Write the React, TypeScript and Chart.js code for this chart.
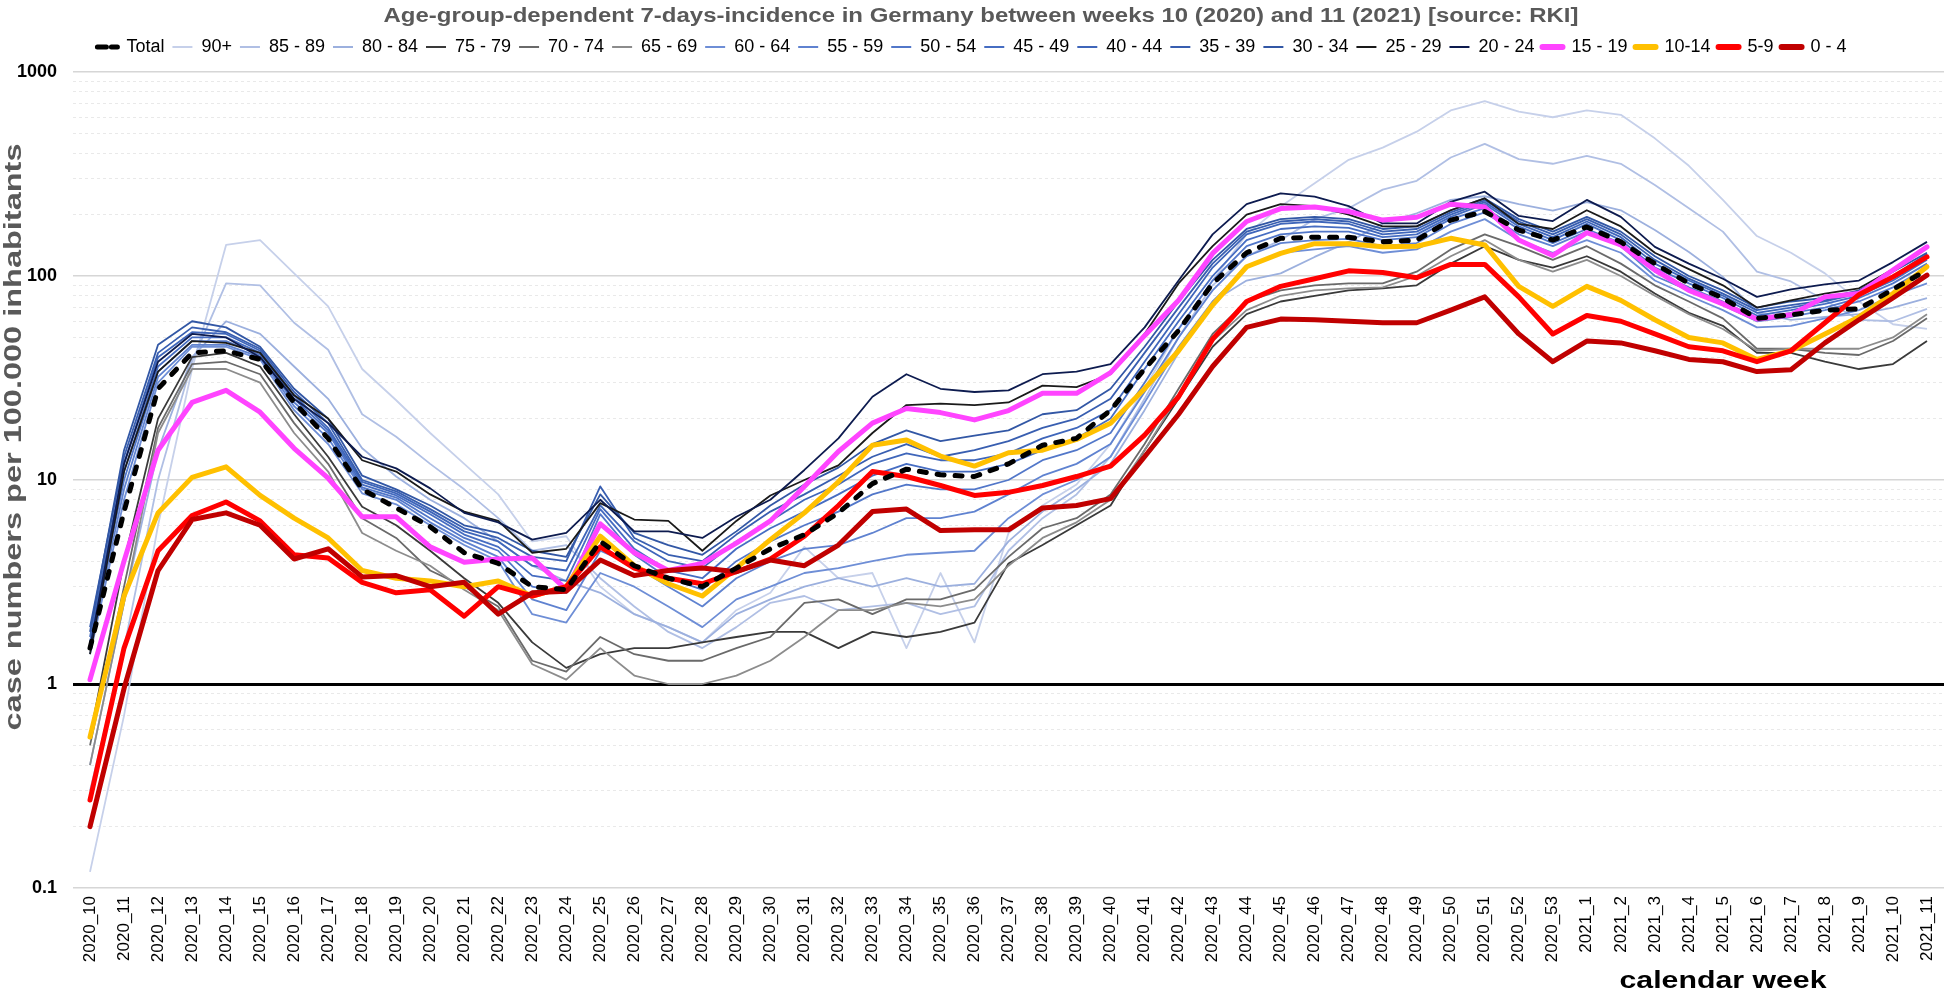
import React, { useEffect, useRef } from "react";
import { Chart, registerables } from "chart.js";

Chart.register(...registerables);

// ---------- data ----------
const weeks = [
  "2020_10", "2020_11", "2020_12", "2020_13", "2020_14", "2020_15", "2020_16", "2020_17", "2020_18", "2020_19",
  "2020_20", "2020_21", "2020_22", "2020_23", "2020_24", "2020_25", "2020_26", "2020_27", "2020_28", "2020_29",
  "2020_30", "2020_31", "2020_32", "2020_33", "2020_34", "2020_35", "2020_36", "2020_37", "2020_38", "2020_39",
  "2020_40", "2020_41", "2020_42", "2020_43", "2020_44", "2020_45", "2020_46", "2020_47", "2020_48", "2020_49",
  "2020_50", "2020_51", "2020_52", "2020_53", "2021_1", "2021_2", "2021_3", "2021_4", "2021_5", "2021_6",
  "2021_7", "2021_8", "2021_9", "2021_10", "2021_11",
];

const total = [1.5, 7, 28, 42, 43, 39, 24, 16, 9, 7.3, 5.9, 4.4, 3.9, 3.0, 2.9, 5.0, 3.8, 3.3, 3.0, 3.7, 4.6, 5.4, 6.9, 9.6, 11.3, 10.6, 10.4, 12, 14.8, 16, 22, 35, 54, 92, 130, 153, 155, 155, 147, 150, 188, 207, 168, 150, 174, 147, 115, 92, 78, 62, 64.5, 68, 69, 86, 107];
const age90 = [0.12, 0.7, 6, 35, 142, 150, 103, 71, 35, 24.6, 17, 12, 8.5, 5.0, 5.3, 3.0, 2.2, 1.9, 1.6, 2.3, 2.8, 4.7, 3.3, 3.5, 1.5, 3.5, 1.6, 5.5, 7.5, 9.5, 15, 28, 55, 95, 160, 219, 285, 371, 426, 510, 648, 720, 639, 600, 648, 617, 473, 347, 236, 157, 130, 103, 75, 58, 55];
const age85_89 = [0.3, 1.5, 10, 38, 92, 90, 59, 43.5, 21, 16.3, 12, 9, 6.5, 4.5, 4.8, 3.3, 2.4, 1.8, 1.5, 1.9, 2.5, 2.7, 2.3, 2.4, 2.5, 2.2, 2.4, 4.5, 6.5, 8.5, 13, 25, 50, 90, 125, 150, 190, 215, 265, 293, 381, 444, 374, 355, 388, 355, 279, 215, 165, 105, 94, 76, 61, 60, 69];
const age80_84 = [0.4, 2.5, 14, 40, 60, 52, 36, 25, 14.3, 10.4, 8, 6.5, 5, 3.8, 3.2, 2.8, 2.2, 1.9, 1.6, 2.2, 2.6, 3.0, 3.3, 3.0, 3.3, 3.0, 3.1, 5.0, 7.0, 9.0, 12, 22, 42, 75, 95, 103, 124, 147, 181, 203, 236, 246, 225, 209, 230, 210, 168, 131, 99, 66, 61, 63, 65, 70, 78];
const age75_79 = [0.55, 4, 20, 40, 42, 36, 21, 13, 7.4, 6.0, 4.5, 3.3, 2.5, 1.6, 1.2, 1.4, 1.5, 1.5, 1.6, 1.7, 1.8, 1.8, 1.5, 1.8, 1.7, 1.8, 2.0, 3.9, 4.8, 6.0, 7.5, 14, 25, 45, 65, 75, 80, 85, 87, 90, 115, 140, 120, 110, 125, 105, 82, 66, 57, 42, 42, 38, 35, 37, 48];
const age70_74 = [0.5, 3, 18, 37, 38, 33, 19, 12, 6.5, 5.2, 3.6, 3.0, 2.4, 1.3, 1.15, 1.7, 1.4, 1.3, 1.3, 1.5, 1.7, 2.5, 2.6, 2.2, 2.6, 2.6, 2.9, 4.2, 5.8, 6.5, 8.5, 15, 28, 52, 75, 85, 90, 92, 92, 105, 135, 160, 140, 120, 140, 115, 90, 75, 62, 44, 44, 42, 41, 48, 62];
const age65_69 = [0.4, 2.5, 17, 35, 35, 30, 17, 11, 5.5, 4.5, 3.8, 2.9, 2.3, 1.25, 1.05, 1.5, 1.1, 1.0, 1.0, 1.1, 1.3, 1.7, 2.3, 2.3, 2.5, 2.4, 2.6, 3.8, 5.2, 6.2, 8, 14, 26, 48, 68, 80, 85, 87, 88, 100, 125, 150, 120, 105, 120, 100, 80, 65, 55, 43, 44, 44, 44, 50, 65];
const age60_64 = [1.4, 8, 30, 45, 45, 39, 22, 15, 8.6, 7.6, 6.0, 4.8, 4.0, 2.2, 2.0, 3.5, 3.0, 2.4, 1.9, 2.6, 3.0, 3.5, 3.7, 4.0, 4.3, 4.4, 4.5, 6.5, 8.5, 10, 13, 24, 45, 75, 110, 130, 135, 140, 130, 135, 165, 190, 150, 130, 150, 130, 95, 80, 68, 56, 57, 62, 68, 80, 92];
const age55_59 = [1.5, 9, 32, 46, 46, 40, 23, 16, 9.0, 8.0, 6.2, 5.0, 4.2, 2.6, 2.3, 4.5, 3.8, 3.0, 2.4, 3.3, 4.0, 4.6, 4.8, 5.5, 6.5, 6.5, 7.0, 8.5, 10.5, 12, 15, 27, 50, 85, 125, 145, 150, 152, 140, 145, 180, 205, 160, 140, 165, 140, 100, 85, 72, 60, 63, 68, 75, 88, 110];
const age50_54 = [1.6, 10, 34, 48, 48, 41, 24, 17, 9.2, 8.2, 6.5, 5.2, 4.5, 3.0, 2.8, 6.8, 4.3, 3.3, 2.9, 4.0, 5.0, 6.0, 7.0, 8.5, 9.5, 9.0, 9.0, 10, 12.5, 14, 17, 30, 55, 95, 140, 160, 165, 165, 150, 155, 190, 215, 170, 145, 170, 145, 105, 88, 75, 62, 66, 70, 78, 92, 115];
const age45_49 = [1.6, 11, 36, 50, 50, 42, 25, 17.5, 9.5, 8.4, 6.8, 5.4, 4.7, 3.4, 3.2, 7.2, 4.6, 3.6, 3.3, 4.6, 5.8, 7.0, 8.5, 10.5, 12, 11, 11, 12, 14, 16, 20, 35, 60, 100, 150, 170, 175, 172, 155, 160, 195, 225, 175, 150, 180, 150, 110, 92, 78, 64, 68, 73, 80, 95, 120];
const age40_44 = [1.7, 12, 40, 53, 52, 43, 26, 18, 9.8, 8.6, 7.0, 5.6, 5.0, 3.8, 3.6, 7.5, 5.0, 4.0, 3.7, 5.0, 6.3, 8.0, 9.5, 12, 13.5, 12.5, 12.5, 13.5, 16, 18, 22, 38, 65, 110, 160, 180, 185, 180, 160, 165, 200, 230, 180, 155, 185, 155, 115, 95, 80, 66, 70, 75, 82, 98, 125];
const age35_39 = [1.9, 13, 42, 56, 53, 44, 27, 19, 10, 8.8, 7.2, 5.8, 5.2, 4.2, 4.0, 9.3, 5.2, 4.3, 4.0, 5.4, 7.0, 8.5, 10.5, 13, 15, 13, 14, 15.5, 18, 20, 25, 42, 70, 115, 165, 185, 190, 185, 165, 170, 205, 235, 185, 160, 190, 160, 120, 97, 82, 68, 72, 76, 83, 100, 128];
const age30_34 = [1.8, 14, 46, 60, 56, 45, 28, 20, 10.5, 9.0, 7.5, 6.0, 5.5, 4.5, 4.2, 8.5, 5.5, 4.8, 4.3, 5.6, 7.5, 9.5, 11.5, 15, 17.5, 15.5, 16.5, 17.5, 21, 22, 28, 45, 75, 120, 170, 190, 195, 190, 170, 175, 210, 240, 190, 165, 195, 165, 125, 100, 85, 70, 75, 78, 85, 105, 130];
const age25_29 = [1.4, 11, 34, 48, 47, 42, 26, 20, 12.5, 11, 8.5, 7.0, 6.3, 4.4, 4.6, 7.7, 6.4, 6.3, 4.5, 6.3, 8.4, 10, 11.8, 17, 23.3, 23.7, 23.3, 24, 29, 28.5, 33, 52, 92, 140, 200, 225, 220, 200, 175, 175, 210, 240, 180, 170, 210, 175, 130, 108, 90, 70, 76, 82, 87, 108, 140];
const age20_24 = [1.5, 12, 38, 52, 50, 40, 25, 19, 13, 11.4, 9.1, 6.9, 6.2, 5.1, 5.5, 8.0, 5.6, 5.6, 5.2, 6.6, 8.0, 11.2, 16, 25.6, 33, 28, 27, 27.5, 33, 34, 37, 56, 95, 160, 225, 254, 245, 220, 181, 181, 231, 259, 197, 186, 236, 195, 139, 115, 97, 79, 86, 91, 95, 117, 147];
const age15_19 = [1.05, 4, 14, 24, 27.5, 21.5, 14.3, 10.2, 6.6, 6.6, 4.7, 3.95, 4.1, 4.15, 2.9, 6.1, 4.4, 3.6, 3.9, 4.9, 6.3, 9.3, 13.8, 19, 22.4, 21.4, 19.7, 21.9, 26.6, 26.6, 33.6, 51, 76, 129, 185, 214, 218, 207, 188, 194, 225, 218, 150, 126, 163, 142, 107, 85, 73, 61.5, 64.5, 79, 82, 107, 139];
const age10_14 = [0.55, 2.7, 6.9, 10.3, 11.6, 8.4, 6.5, 5.2, 3.6, 3.3, 3.2, 3.0, 3.2, 2.7, 3.0, 5.3, 3.8, 3.1, 2.7, 3.7, 5.1, 6.9, 9.8, 14.8, 15.7, 13.1, 11.7, 13.6, 14, 15.8, 19, 28, 43, 72, 111, 129, 144, 144, 139, 140, 153, 142, 89, 71, 89, 76, 61, 50, 47, 39, 43, 52, 63, 82, 111];
const age5_9 = [0.27, 1.5, 4.5, 6.7, 7.8, 6.3, 4.3, 4.15, 3.15, 2.8, 2.9, 2.15, 3.0, 2.7, 3.0, 4.7, 3.7, 3.3, 3.1, 3.55, 4.1, 5.3, 7.5, 11, 10.4, 9.4, 8.4, 8.7, 9.4, 10.4, 11.7, 16.6, 25.6, 49, 75, 89, 97, 106, 104, 98, 114, 114, 79, 52, 64, 60, 52, 45, 43, 38, 43, 59, 81, 99, 124];
const age0_4 = [0.2, 0.95, 3.6, 6.4, 6.9, 6.0, 4.1, 4.6, 3.35, 3.4, 3.0, 3.15, 2.2, 2.8, 2.85, 4.05, 3.4, 3.6, 3.7, 3.55, 4.05, 3.8, 4.8, 7.0, 7.2, 5.65, 5.7, 5.7, 7.3, 7.5, 8.1, 13, 21, 36, 56, 61.5, 61, 60, 59, 59, 68, 79, 52, 38, 48, 47, 43, 39, 38, 34, 34.7, 47, 61, 78, 101];

const seriesLabels = ["Total", "90+", "85 - 89", "80 - 84", "75 - 79", "70 - 74", "65 - 69", "60 - 64", "55 - 59", "50 - 54", "45 - 49", "40 - 44", "35 - 39", "30 - 34", "25 - 29", "20 - 24", "15 - 19", "10-14", "5-9", "0 - 4"];
const seriesData = [total, age90, age85_89, age80_84, age75_79, age70_74, age65_69, age60_64, age55_59, age50_54, age45_49, age40_44, age35_39, age30_34, age25_29, age20_24, age15_19, age10_14, age5_9, age0_4];

const yDecades = [0.1, 1, 10, 100, 1000];
const yTickLabels = ["0.1", "1", "10", "100", "1000"];

const TITLE = "Age-group-dependent 7-days-incidence in Germany between weeks 10 (2020) and 11 (2021) [source: RKI]";
const Y_TITLE = "case numbers per 100.000 inhabitants";
const X_TITLE = "calendar week";

// ---------- styles ----------
const colors = [
  "#000000", "#c6d0ea", "#b0bfe4", "#9cb0de", "#3a3a3a", "#6a6a6a", "#8c8c8c",
  "#6e8ed6", "#5f82d0", "#5277c9", "#466dc2", "#3f66ba", "#385eb0", "#3257a5",
  "#1a1a1a", "#0d1b4f", "#ff44ff", "#ffc000", "#ff0000", "#c00000",
];
const FONT = "'Liberation Sans', Arial, sans-serif";

function isDecade(v: number) {
  if (v == null) return false;
  const l = Math.log10(v);
  return Math.abs(l - Math.round(l)) < 1e-6;
}

function buildYGrid(): number[] {
  const out: number[] = [];
  for (let e = -1; e <= 2; e++) {
    for (let m = 1; m <= 9; m++) out.push(parseFloat((m * Math.pow(10, e)).toFixed(6)));
  }
  out.push(1000);
  return out;
}

function drawStretched(ctx: CanvasRenderingContext2D, text: string, x: number, y: number, font: string, color: string, targetW: number, rot: number) {
  ctx.save();
  ctx.font = font;
  ctx.fillStyle = color;
  ctx.textAlign = "center";
  ctx.textBaseline = "alphabetic";
  const w = ctx.measureText(text).width;
  ctx.translate(x, y);
  ctx.rotate(rot);
  ctx.scale(targetW / w, 1);
  ctx.fillText(text, 0, 0);
  ctx.restore();
}

const textPlugin = {
  id: "customTexts",
  afterDraw(chart: any) {
    const ctx = chart.ctx as CanvasRenderingContext2D;
    drawStretched(ctx, TITLE, 981, 22, `bold 20px ${FONT}`, "#595959", 1195, 0);
    drawStretched(ctx, Y_TITLE, 21, 437, `bold 24px ${FONT}`, "#595959", 587, -Math.PI / 2);
    drawStretched(ctx, X_TITLE, 1723, 988, `bold 24px ${FONT}`, "#000000", 207, 0);
  },
};

const legendFit = {
  id: "legendFit",
  beforeInit(chart: any) {
    const lg = chart.legend;
    if (!lg) return;
    const orig = lg.fit;
    lg.fit = function () {
      orig.call(this);
      this.height = 42;
    };
  },
};

export default function App() {
  const ref = useRef<HTMLCanvasElement | null>(null);

  useEffect(() => {
    if (!ref.current) return;
    const thickIdx = [16, 17, 18, 19];
    const datasets = seriesData.map((d, i) => {
      const isTotal = i === 0;
      const thick = thickIdx.includes(i);
      return {
        label: seriesLabels[i],
        data: d,
        borderColor: colors[i],
        backgroundColor: colors[i],
        borderWidth: isTotal ? 5 : thick ? 5 : 1.8,
        borderDash: isTotal ? [7, 11] : [],
        borderCapStyle: isTotal || thick ? "round" : "butt",
        borderJoinStyle: "round",
        pointRadius: 0,
        pointHoverRadius: 0,
        tension: 0,
        fill: false,
        order: isTotal ? 0 : thick ? 20 - i : 10 + (20 - i),
      };
    });

    const yGrid = buildYGrid();

    const chart = new Chart(ref.current, {
      type: "line",
      data: { labels: weeks, datasets: datasets as any },
      options: {
        animation: false,
        responsive: true,
        maintainAspectRatio: false,
        layout: { padding: { top: 30, right: 2, bottom: 0, left: 0 } },
        plugins: {
          title: { display: false },
          tooltip: { enabled: false },
          legend: {
            display: true,
            position: "top",
            align: "center",
            labels: {
              font: { family: FONT, size: 18 },
              color: "#000000",
              usePointStyle: true,
              pointStyleWidth: 20,
              padding: 8,
              generateLabels: (ch: any) =>
                ch.data.datasets.map((ds: any, i: number) => ({
                  text: ds.label,
                  fillStyle: ds.borderColor,
                  strokeStyle: ds.borderColor,
                  lineWidth: i === 0 ? 5 : thickIdx.includes(i) ? 6 : 2,
                  lineDash: i === 0 ? [9, 5] : [],
                  lineCap: i === 0 || thickIdx.includes(i) ? "round" : "butt",
                  pointStyle: "line",
                  hidden: false,
                  datasetIndex: i,
                  fontColor: "#000000",
                })),
            },
          },
        },
        scales: {
          x: {
            type: "category",
            offset: true,
            grid: { display: false, drawTicks: false },
            border: { display: false },
            ticks: {
              autoSkip: false,
              minRotation: 90,
              maxRotation: 90,
              padding: 8,
              color: "#000000",
              font: { family: FONT, size: 17 },
            },
            afterFit: (scale: any) => {
              scale.height = 106;
              scale.paddingLeft = 0;
              scale.paddingRight = 0;
            },
          },
          y: {
            type: "logarithmic",
            min: 0.1,
            max: 1000,
            afterBuildTicks: (scale: any) => {
              scale.ticks = yGrid.map((v) => ({ value: v, major: isDecade(v) }));
            },
            afterFit: (scale: any) => {
              scale.width = 73;
            },
            ticks: {
              autoSkip: false,
              padding: 16,
              color: "#000000",
              font: { family: FONT, size: 18, weight: "bold" },
              callback: (v: any) => {
                const n = Number(v);
                if (!isDecade(n)) return "";
                const k = yDecades.findIndex((d) => Math.abs(d - n) / d < 1e-6);
                return k >= 0 ? yTickLabels[k] : "";
              },
            },
            grid: {
              drawTicks: false,
              color: (c: any) => {
                const v = c.tick ? c.tick.value : null;
                if (v == null) return "#e6e6e6";
                if (Math.abs(v - 1) < 1e-9) return "#000000";
                if (isDecade(v)) return "#d6d6d6";
                return "#e9e9e9";
              },
              lineWidth: (c: any) => {
                const v = c.tick ? c.tick.value : null;
                if (v == null) return 1;
                if (Math.abs(v - 1) < 1e-9) return 3;
                if (isDecade(v)) return 1.5;
                return 1;
              },
            },
            border: {
              display: false,
              dash: (c: any) => {
                const v = c.tick ? c.tick.value : null;
                return v != null && isDecade(v) ? [] : [3, 3];
              },
            },
          },
        },
      },
      plugins: [legendFit, textPlugin],
    });

    return () => chart.destroy();
  }, []);

  return (
    <div style={{ position: "absolute", left: 0, top: 0, width: 1946, height: 994, background: "#ffffff" }}>
      <canvas ref={ref} />
    </div>
  );
}
